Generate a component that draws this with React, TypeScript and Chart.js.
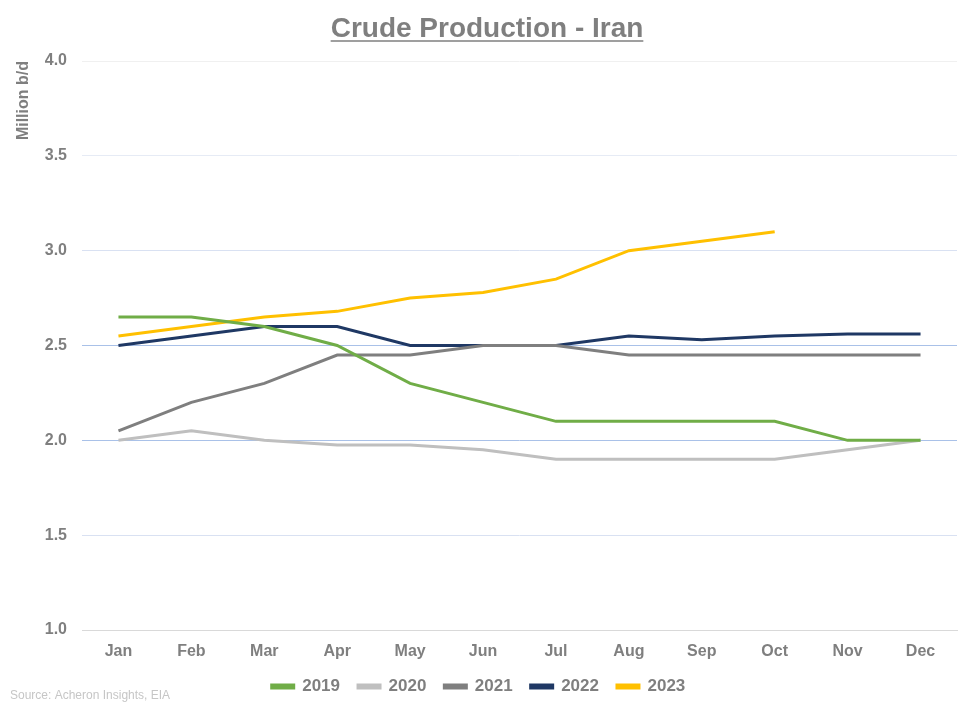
import React, { useEffect, useRef } from "react";
import { Chart, registerables } from "chart.js";

Chart.register(...registerables);

const months = ["Jan", "Feb", "Mar", "Apr", "May", "Jun", "Jul", "Aug", "Sep", "Oct", "Nov", "Dec"];
const s2019 = [2.65, 2.65, 2.6, 2.5, 2.3, 2.2, 2.1, 2.1, 2.1, 2.1, 2.0, 2.0];
const s2020 = [2.0, 2.05, 2.0, 1.975, 1.975, 1.95, 1.9, 1.9, 1.9, 1.9, 1.95, 2.0];
const s2021 = [2.05, 2.2, 2.3, 2.45, 2.45, 2.5, 2.5, 2.45, 2.45, 2.45, 2.45, 2.45];
const s2022 = [2.5, 2.55, 2.6, 2.6, 2.5, 2.5, 2.5, 2.55, 2.53, 2.55, 2.56, 2.56];
const s2023 = [2.55, 2.6, 2.65, 2.68, 2.75, 2.78, 2.85, 3.0, 3.05, 3.1, null, null];

const titleText = "Crude Production - Iran";
const yTitle = "Million b/d";
const sourceText = "Source: Acheron Insights, EIA";

const FONT = "'Liberation Sans', Arial, sans-serif";
const GREY = "#7F7F7F";

const gridColors: Record<string, string> = {
  "4.0": "#F0F0F0",
  "3.5": "#E6EBF5",
  "3.0": "#D9E1F2",
  "2.5": "#A9C1E8",
  "2.0": "#A9C1E8",
  "1.5": "#D9E1F2",
  "1.0": "#D9D9D9",
};

const extras = {
  id: "extras",
  afterDraw(chart: any) {
    const ctx = chart.ctx;
    ctx.save();
    ctx.font = `bold 28px ${FONT}`;
    ctx.fillStyle = GREY;
    ctx.textAlign = "center";
    ctx.textBaseline = "alphabetic";
    const cx = 487;
    const by = 37;
    ctx.fillText(titleText, cx, by);
    const w = ctx.measureText(titleText).width;
    ctx.strokeStyle = GREY;
    ctx.lineWidth = 1.5;
    ctx.beginPath();
    ctx.moveTo(cx - w / 2, by + 4);
    ctx.lineTo(cx + w / 2, by + 4);
    ctx.stroke();

    ctx.font = `12px ${FONT}`;
    ctx.fillStyle = "#C6C6C6";
    ctx.textAlign = "left";
    ctx.textBaseline = "middle";
    ctx.fillText(sourceText, 10, 696);
    ctx.restore();
  },
};

export default function App() {
  const ref = useRef<HTMLCanvasElement>(null);
  useEffect(() => {
    const mk = (label: string, data: any[], color: string) => ({
      label,
      data,
      borderColor: color,
      backgroundColor: color,
      borderWidth: 3,
      pointRadius: 0,
      tension: 0,
      spanGaps: false,
    });
    const chart = new Chart(ref.current!, {
      type: "line",
      data: {
        labels: months,
        datasets: [
          mk("2019", s2019, "#70AD47"),
          mk("2020", s2020, "#BFBFBF"),
          mk("2021", s2021, "#7F7F7F"),
          mk("2022", s2022, "#1F3864"),
          mk("2023", s2023, "#FFC000"),
        ],
      },
      options: {
        animation: false,
        responsive: false,
        layout: { padding: { top: 61, left: 0, right: 16, bottom: 4 } },
        plugins: {
          title: { display: false },
          tooltip: { enabled: false },
          legend: {
            position: "bottom",
            labels: {
              boxWidth: 22,
              boxHeight: 3,
              padding: 18,
              color: GREY,
              font: { family: FONT, size: 17, weight: "bold" },
            },
          },
        },
        scales: {
          x: {
            offset: true,
            grid: { display: false, drawTicks: false },
            border: { display: true, color: "#D9D9D9", width: 1 },
            ticks: {
              color: GREY,
              padding: 12,
              maxRotation: 0,
              font: { family: FONT, size: 16, weight: "bold" },
            },
            afterFit(s: any) {
              s.height = 30;
            },
          },
          y: {
            min: 1,
            max: 4,
            grid: {
              drawTicks: false,
              color: (c: any) => gridColors[Number(c.tick?.value).toFixed(1)] || "#E0E0E0",
            },
            border: { display: false },
            ticks: {
              stepSize: 0.5,
              padding: 15,
              color: GREY,
              font: { family: FONT, size: 16, weight: "bold" },
              callback: (v: any) => Number(v).toFixed(1),
            },
            title: {
              display: true,
              text: yTitle,
              align: "end",
              color: GREY,
              padding: { top: 14, bottom: 0 },
              font: { family: FONT, size: 16, weight: "bold" },
            },
            afterFit(s: any) {
              s.width = 82;
            },
          },
        },
      },
      plugins: [extras],
    } as any);
    return () => chart.destroy();
  }, []);
  return (
    <div style={{ position: "fixed", left: 0, top: 0, width: 973, height: 709, background: "#fff" }}>
      <canvas ref={ref} width={973} height={709} style={{ width: 973, height: 709 }} />
    </div>
  );
}
